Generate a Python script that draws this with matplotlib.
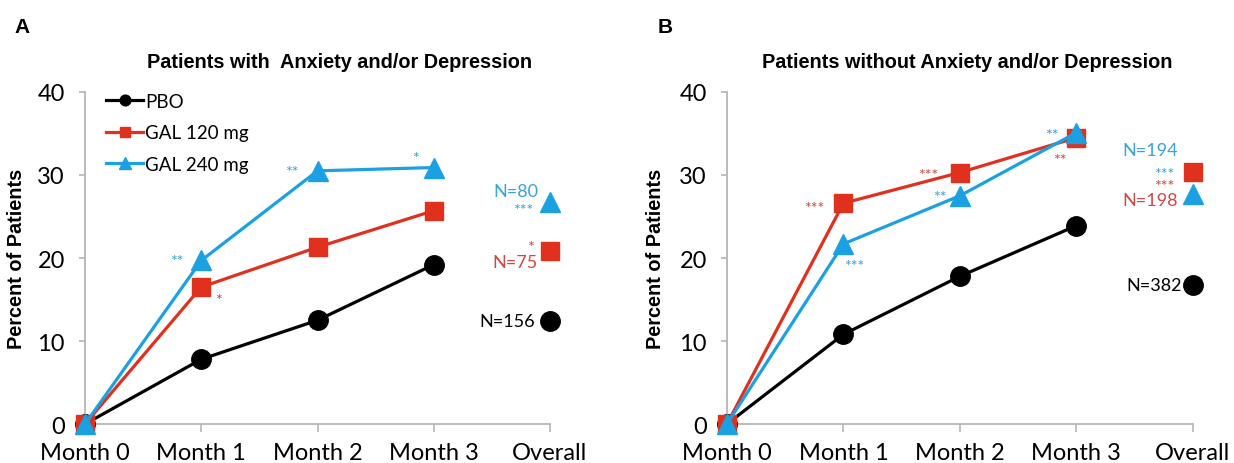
import matplotlib
matplotlib.use('Agg')
import matplotlib.pyplot as plt

# categories
months = ['Month 0', 'Month 1', 'Month 2', 'Month 3']
overall_label = 'Overall'
series_names = ['PBO', 'GAL 120 mg', 'GAL 240 mg']

# panel A: patients with anxiety and/or depression (percent)
a_pbo = [0, 7.8, 12.5, 19.2]
a_gal120 = [0, 16.5, 21.3, 25.7]
a_gal240 = [0, 19.7, 30.5, 30.9]
a_overall = [12.4, 20.9, 26.7]
a_n = ['N=156', 'N=75', 'N=80']

# panel B: patients without anxiety and/or depression (percent)
b_pbo = [0, 10.8, 17.8, 23.9]
b_gal120 = [0, 26.6, 30.3, 34.5]
b_gal240 = [0, 21.7, 27.5, 35.1]
b_overall = [16.7, 30.4, 27.7]
b_n = ['N=382', 'N=198', 'N=194']

colors = ['black', '#e0301e', '#1ba1e2']
text_colors = ['black', '#cc4a45', '#3aa3d4']
markers = ['o', 's', '^']
msizes = [14, 13, 15]

# significance marks: (series, x index, text, dx pt, dy pt)
a_stars = [(2, 1, '**', -17.6, -0.6), (1, 1, '*', 12.6, -9),
           (2, 2, '**', -18.4, -0.6), (2, 3, '*', -13.4, 6.6),
           (2, 4, '***', -19.3, -5.4), (1, 4, '*', -14.2, 2.5)]
b_stars = [(1, 1, '***', -21, -3.6), (2, 1, '***', 7.6, -16.2),
           (1, 2, '***', -22.7, -1.8), (2, 2, '**', -14.3, -0.6),
           (2, 3, '**', -17.6, -1.8), (1, 3, '**', -11.7, -16.2),
           (2, 4, '***', -20.4, 14.8), (1, 4, '***', -20.4, -10.2)]
# N label offsets per series (dx pt, dy pt), text right-aligned
a_n_off = [(-10.9, 0), (-9.2, -8.0), (-8.4, 8.4)]
b_n_off = [(-7.6, 0), (-10.5, -20.5), (-10.5, 31.6)]

num_font = 'Lato'
bold_font = 'Liberation Sans'
spine_col = '#b5b5b5'

fig = plt.figure(figsize=(12.34, 4.64), dpi=100)
ax_a = fig.add_axes([0.0689, 0.084, 0.3768, 0.7156])
ax_b = fig.add_axes([0.5891, 0.084, 0.3776, 0.7156])


def draw_panel(ax, pbo, gal120, gal240, overall, nlabels, stars, n_off,
               title, title_x, ylab_x):
    lines = [pbo, gal120, gal240]
    x = list(range(len(months)))
    for i in range(3):
        ax.plot(x, lines[i], color=colors[i], lw=2.3, marker=markers[i],
                ms=msizes[i], label=series_names[i], clip_on=False,
                zorder=3 + i)
        ax.plot([len(months)], [overall[i]], ls='none', color=colors[i],
                marker=markers[i], ms=msizes[i], clip_on=False, zorder=3 + i)
        ax.annotate(nlabels[i], (len(months), overall[i]), xytext=n_off[i],
                    textcoords='offset points', ha='right', va='center',
                    color=text_colors[i], fontsize=13, family=num_font)
    for s, xi, txt, dx, dy in stars:
        y = overall[s] if xi == len(months) else lines[s][xi]
        ax.annotate(txt, (xi, y), xytext=(dx, dy), textcoords='offset points',
                    ha='center', va='center', color=text_colors[s],
                    fontsize=11.5, family=num_font)

    ax.set_xlim(0, len(months))
    ax.set_ylim(0, 40)
    ax.set_xticks(range(len(months) + 1))
    ax.set_xticklabels(months + [overall_label], family=num_font, fontsize=17)
    ax.set_yticks([0, 10, 20, 30, 40])
    ax.set_yticklabels(['0', '10', '20', '30', '40'], family=num_font,
                       fontsize=17)
    for side in ['top', 'right']:
        ax.spines[side].set_visible(False)
    for side in ['left', 'bottom']:
        ax.spines[side].set_color(spine_col)
        ax.spines[side].set_linewidth(1.3)
    ax.tick_params(axis='y', color=spine_col, length=4.5, width=1.2, pad=10)
    ax.tick_params(axis='x', color=spine_col, length=6, width=1.2, pad=7)
    ax.set_ylabel('Percent of Patients', family=bold_font, fontweight='bold',
                  fontsize=14.3)
    ax.yaxis.set_label_coords(ylab_x, 0.5)
    ax.text(title_x, 1.093, title, transform=ax.transAxes, ha='center',
            va='center', family=bold_font, fontweight='bold', fontsize=14.3)


draw_panel(ax_a, a_pbo, a_gal120, a_gal240, a_overall, a_n, a_stars, a_n_off,
           'Patients with  Anxiety and/or Depression', 0.548, -0.128)
draw_panel(ax_b, b_pbo, b_gal120, b_gal240, b_overall, b_n, b_stars, b_n_off,
           'Patients without Anxiety and/or Depression', 0.515, -0.134)

leg = ax_a.legend(loc='upper left', bbox_to_anchor=(0.045, 0.997),
                  frameon=False, markerscale=0.55, handlelength=2.0,
                  handletextpad=0.1, labelspacing=0.77, borderpad=0,
                  borderaxespad=0, prop={'family': num_font, 'size': 13.5})

fig.text(0.018, 0.94, 'A', ha='center', va='center', family=bold_font,
         fontweight='bold', fontsize=15)
fig.text(0.539, 0.94, 'B', ha='center', va='center', family=bold_font,
         fontweight='bold', fontsize=15)

fig.savefig('out.png', dpi=100)
